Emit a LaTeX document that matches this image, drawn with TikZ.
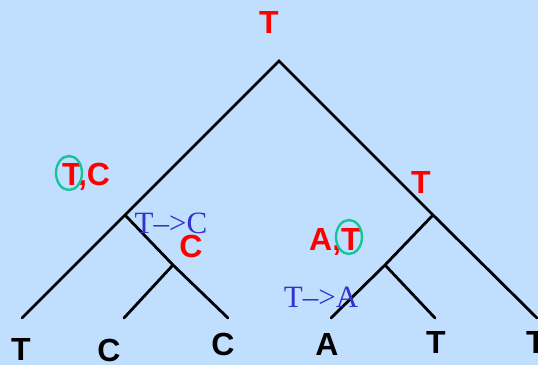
\documentclass[tikz,border=0pt]{standalone}
\usepackage{fontspec}
\setmainfont{Liberation Serif}
\setsansfont{Liberation Sans}
\usetikzlibrary{shapes.geometric,positioning}
\definecolor{sky}{HTML}{C0DFFE}
\definecolor{state}{HTML}{FF0000}
\definecolor{change}{HTML}{3333CC}
\definecolor{ring}{HTML}{19C39A}

\tikzset{
  branch/.style={line width=2.8pt, line cap=round, black},
  leaflbl/.style={font=\sffamily\bfseries\fontsize{32}{32}\selectfont, inner sep=0pt, anchor=base},
  statelbl/.style={leaflbl, text=state},
  changelbl/.style={font=\rmfamily\fontsize{31}{31}\selectfont, inner sep=0pt, anchor=base, text=change},
  pick/.style={draw=ring, line width=2.4pt, ellipse, minimum width=26pt, minimum height=34pt, inner sep=0pt}
}

\begin{document}
\begin{tikzpicture}[x=1pt, y=-1pt]
  \fill[sky] (0,0) rectangle (538,365);
  \useasboundingbox (0,0) rectangle (538,365);

  % tree
  \coordinate (root) at (279,61);
  \coordinate (l) at (125,215);
  \coordinate (lr) at (173,265);
  \coordinate (r) at (433,215);
  \coordinate (rl) at (385,265);
  \coordinate (t1) at (22,318);
  \coordinate (t2) at (124,318);
  \coordinate (t3) at (228,318);
  \coordinate (t4) at (331,318);
  \coordinate (t5) at (435,318);
  \coordinate (t6) at (537,318);
  \draw[branch] (t1) -- (l) -- (root) -- (r) -- (t6);
  \draw[branch] (l) -- (lr) -- (t3);
  \draw[branch] (lr) -- (t2);
  \draw[branch] (r) -- (rl) -- (t4);
  \draw[branch] (rl) -- (t5);

  % leaves
  \node[leaflbl] (s1) at (21,360) {T};
  \node[leaflbl] (s2) at (109,361) {C};
  \node[leaflbl] (s3) at (223,355) {C};
  \node[leaflbl] (s4) at (327,355) {A};
  \node[leaflbl] (s5) at (436,353) {T};
  \node[leaflbl] (s6) at (536,353) {T};

  % inferred states
  \node[statelbl] (sroot) at (269,33) {T};
  \node[statelbl] (sl) at (86,185) {T,C};
  \node[statelbl] (slr) at (191,257) {C};
  \node[statelbl] (sr) at (421,193) {T};
  \node[statelbl] (srl) at (335,250) {A,T};
  \node[pick] (pl) at (69,173) {};
  \node[pick] (prl) at (349,237) {};

  % substitutions
  \node[changelbl] (cl) at (171,233) {T--{>}C};
  \node[changelbl] (crl) at (321,307) {T--{>}A};
\end{tikzpicture}
\end{document}
